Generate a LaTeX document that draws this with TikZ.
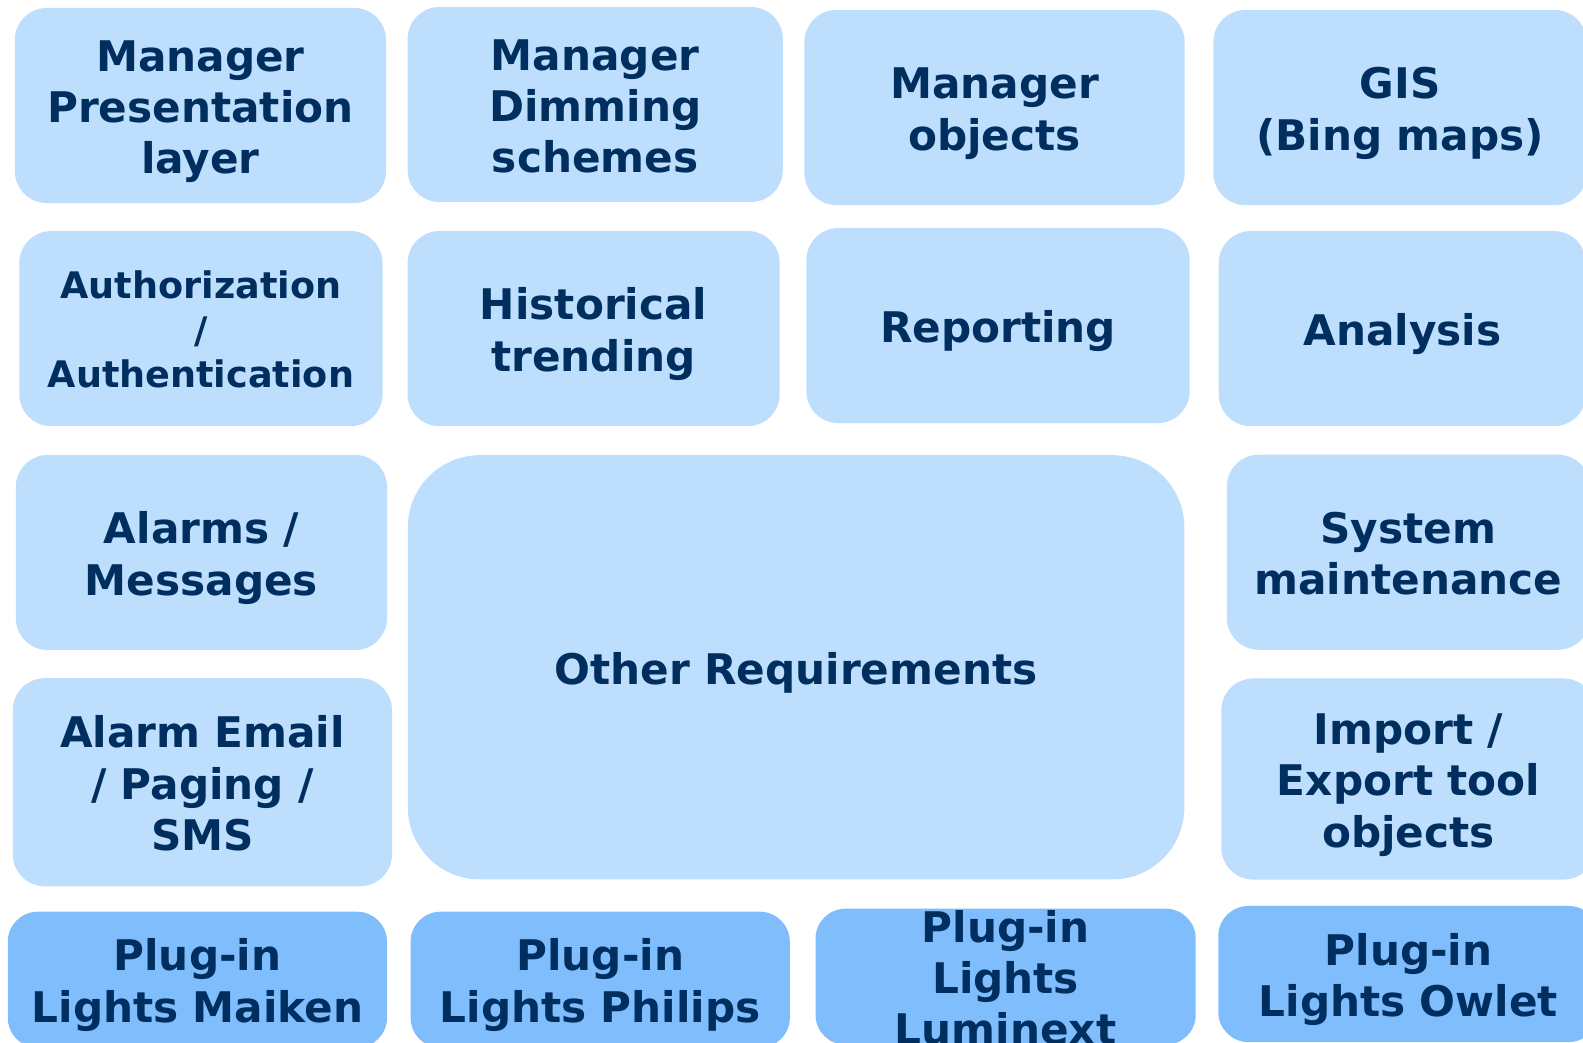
\documentclass[tikz,border=0pt]{standalone}
\usepackage{fontspec}
\setmainfont{DejaVu Sans}
\usetikzlibrary{positioning}
\definecolor{reqfill}{RGB}{189,222,253}
\definecolor{plugfill}{RGB}{128,189,253}
\definecolor{reqtext}{RGB}{0,47,95}

\begin{document}
\begin{tikzpicture}[x=0.01cm,y=-0.01cm,
  lbl/.style={text=reqtext,align=center,inner sep=0pt,text width=3.5cm,
    font=\fontsize{12}{14.6}\selectfont\bfseries,
    execute at begin node={\rule{0pt}{1.05em}},execute at end node={\rule[-0.25em]{0pt}{0.25em}}},
  req/.style={lbl,fill=reqfill,rounded corners=0.32cm,minimum height=1.95cm},
  plug/.style={lbl,fill=plugfill,rounded corners=0.3cm,minimum height=1.36cm}]
  \useasboundingbox (0,0) rectangle (1583,1042);
  % first row
  \node[req,minimum width=3.71cm](mgrpres) at (200.4,105.5) {Manager\\Presentation\\layer};
  \node[req,minimum width=3.75cm](mgrdim) at (595.2,104.5) {Manager\\Dimming\\schemes};
  \node[req,minimum width=3.80cm](mgrobj) at (994.5,107.5) {Manager\\objects};
  \node[req,minimum width=3.73cm](gis) at (1400,107.5) {GIS\\(Bing maps)};
  % second row
  \node[req,minimum width=3.63cm,font=\fontsize{10.4}{12.6}\selectfont\bfseries](auth) at (200.9,328.6) {Authorization\\/\\Authentication};
  \node[req,minimum width=3.72cm](histtrend) at (593.6,328.6) {Historical\\trending};
  \node[req,minimum width=3.83cm](reporting) at (998,325.6) {Reporting};
  \node[req,minimum width=3.67cm](analysis) at (1402.3,328.6) {Analysis};
  % middle
  \node[req,minimum width=3.71cm](alarms) at (201.4,552.5) {Alarms /\\Messages};
  \node[req,minimum width=7.76cm,minimum height=4.24cm,text width=5cm,rounded corners=0.72cm](otherreq) at (796.1,667.3) {Other Requirements};
  \node[req,minimum width=3.63cm](sysmaint) at (1408.4,552.2) {System\\maintenance};
  \node[req,minimum width=3.79cm,minimum height=2.08cm](alarmmail) at (202.4,782.2) {Alarm Email\\/ Paging /\\SMS};
  \node[req,minimum width=3.74cm,minimum height=2.01cm](impexp) at (1408.4,779) {Import /\\Export tool\\objects};
  % plug-ins
  \node[plug,minimum width=3.79cm](plugmaiken) at (197.4,979.7) {Plug-in\\Lights Maiken};
  \node[plug,minimum width=3.79cm](plugphilips) at (600.2,979.7) {Plug-in\\Lights Philips};
  \node[plug,minimum width=3.80cm](pluglumin) at (1005.6,976.7) {};
  \node[lbl] at (pluglumin) {Plug-in\\Lights\\Luminext};
  \node[plug,minimum width=3.80cm](plugowlet) at (1408.4,974) {Plug-in\\Lights Owlet};
\end{tikzpicture}
\end{document}
